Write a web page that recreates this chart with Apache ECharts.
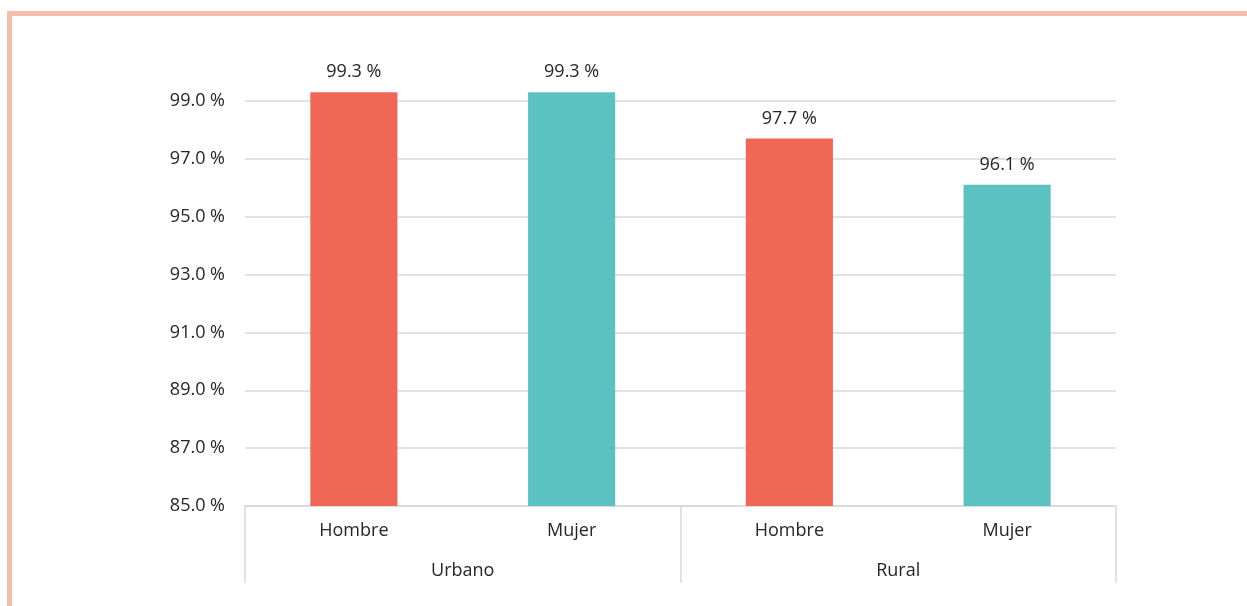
<!DOCTYPE html>
<html>
<head>
<meta charset="utf-8">
<script src="https://cdn.jsdelivr.net/npm/echarts@6/dist/echarts.min.js"></script>
<style>
  html, body { margin: 0; padding: 0; background: #fff; }
  #chart { width: 1247px; height: 606px; }
  .frame {
    position: absolute; left: 7px; top: 11px; right: 0; bottom: 0;
    border-top: 5px solid #f9bcac; border-left: 5px solid #f9bcac;
    pointer-events: none;
  }
</style>
</head>
<body>
<div id="chart"></div>
<div class="frame"></div>
<script>
  var categories = ['Hombre', 'Mujer', 'Hombre', 'Mujer']
  var groups = ['Urbano', 'Rural']
  var values = [99.3, 99.3, 97.7, 96.1]
  var colors = ['#f06755', '#5bc1c1']

  var chart = echarts.init(document.getElementById('chart'))
  var font = 'Open Sans'
  var grid = '#d9d9d9'
  // split lines 85..99 visible, the one at max (100) hidden
  var splitColors = [grid, grid, grid, grid, grid, grid, grid, grid, 'rgba(0,0,0,0)']
  chart.setOption({
    backgroundColor: '#fff',
    animation: false,
    grid: [
      { left: 245, right: 131, top: 72, bottom: 100 },
      { left: 245, right: 131, top: 505, bottom: 100 }
    ],
    xAxis: [
      {
        type: 'category',
        gridIndex: 0,
        data: categories,
        axisLine: { show: true, lineStyle: { color: grid, width: 1.5 } },
        axisTick: { show: false },
        axisLabel: { color: '#262626', fontSize: 18, fontFamily: font, margin: 16 }
      },
      {
        type: 'category',
        gridIndex: 1,
        data: groups,
        axisLine: { show: false },
        axisTick: { show: true, length: 77, lineStyle: { color: grid, width: 1.5 } },
        axisLabel: { color: '#262626', fontSize: 18, fontFamily: font, margin: 56 }
      }
    ],
    yAxis: [
      {
        type: 'value',
        gridIndex: 0,
        min: 85,
        max: 100,
        interval: 2,
        axisLine: { show: false },
        axisTick: { show: false },
        splitLine: { lineStyle: { color: splitColors, width: 1.5 } },
        axisLabel: {
          color: '#262626', fontSize: 18, fontFamily: font, margin: 20,
          showMaxLabel: false,
          formatter: function (v) { return v.toFixed(1) + ' %' }
        }
      },
      {
        type: 'value',
        gridIndex: 1,
        show: false
      }
    ],
    series: [
      {
        type: 'bar',
        xAxisIndex: 0,
        yAxisIndex: 0,
        data: values,
        barWidth: '40%',
        itemStyle: {
          color: function (p) { return colors[p.dataIndex % 2] }
        },
        label: {
          show: true,
          position: 'top',
          distance: 11,
          color: '#262626',
          fontSize: 18,
          fontFamily: font,
          formatter: function (p) { return p.value.toFixed(1) + ' %' }
        }
      }
    ]
  })
</script>
</body>
</html>
